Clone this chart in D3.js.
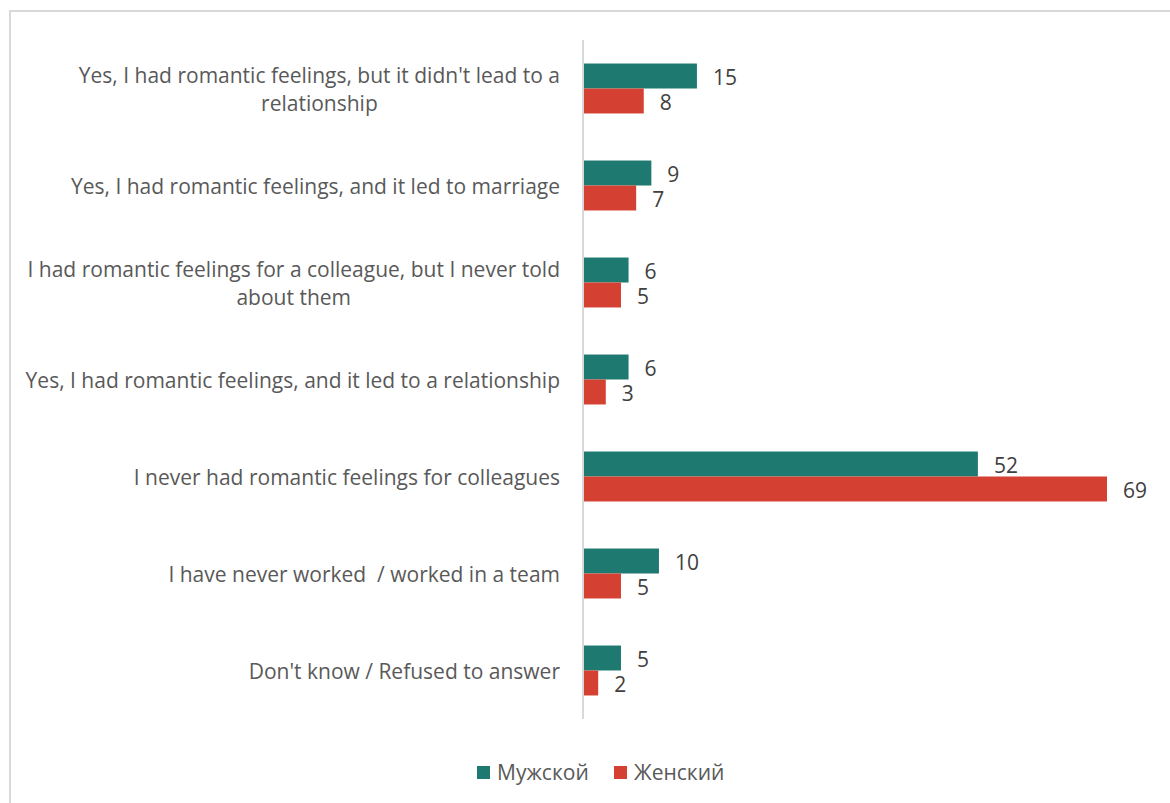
<!DOCTYPE html>
<html><head><meta charset="utf-8">
<script src="https://cdn.jsdelivr.net/npm/d3@7"></script>
<style>
html,body{margin:0;padding:0;background:#fff;}
svg{display:block;}
text{white-space:pre;}
</style></head>
<body>
<svg id="chart" width="1170" height="803"></svg>
<script>
const categories = [
  "Yes, I had romantic feelings, but it didn't lead to a relationship",
  "Yes, I had romantic feelings, and it led to marriage",
  "I had romantic feelings for a colleague, but I never told about them",
  "Yes, I had romantic feelings, and it led to a relationship",
  "I never had romantic feelings for colleagues",
  "I have never worked  / worked in a team",
  "Don't know / Refused to answer"
];
const seriesNames = ["Мужской", "Женский"];
const maleValues = [15, 9, 6, 6, 52, 10, 5];
const femaleValues = [8, 7, 5, 3, 69, 5, 2];
const colors = ["#1E7A71", "#D44133"];

const svg = d3.select("#chart");
const font = "'Open Sans', sans-serif";

const probe = svg.append("text").attr("font-family", font).attr("font-size", 20)
  .text("Yes, I had romantic feelings, and it led to marriage");
const fs = Math.round(20 * 488 / probe.node().getComputedTextLength() * 10) / 10;
probe.remove();

svg.append("rect").attr("x", 10).attr("y", 11).attr("width", 1200).attr("height", 850)
  .attr("fill", "#fff").attr("stroke", "#d9d9d9").attr("stroke-width", 2);

const x0 = 583, x1 = 1107;
const x = d3.scaleLinear().domain([0, 69]).range([x0, x1]);
const y = d3.scaleBand().domain(categories).range([40, 719]).paddingInner(0.485).paddingOuter(0.2425);
const sub = d3.scaleBand().domain(seriesNames).range([0, y.bandwidth()]);

const series = [maleValues, femaleValues];

series.forEach((vals, si) => {
  const g = svg.append("g");
  g.selectAll("rect").data(categories).join("rect")
    .attr("x", x(0))
    .attr("y", (c) => y(c) + sub(seriesNames[si]))
    .attr("width", (c, i) => x(vals[i]) - x(0))
    .attr("height", sub.bandwidth())
    .attr("fill", colors[si]);
  g.selectAll("text").data(categories).join("text")
    .attr("x", (c, i) => x(vals[i]) + 16)
    .attr("y", (c) => y(c) + sub(seriesNames[si]) + sub.bandwidth() / 2)
    .attr("dy", "0.42em")
    .attr("font-family", font).attr("font-size", fs).attr("fill", "#404040")
    .text((c, i) => vals[i]);
});

svg.append("line").attr("x1", x0).attr("x2", x0).attr("y1", 40).attr("y2", 719)
  .attr("stroke", "#d9d9d9").attr("stroke-width", 2);

const maxW = 555;
const labelG = svg.append("g");
categories.forEach((c) => {
  const t = labelG.append("text").attr("font-family", font).attr("font-size", fs).attr("fill", "#595959");
  const words = c.split(" ");
  const lines = [];
  let cur = [];
  words.forEach((w) => {
    const test = cur.concat([w]).join(" ");
    t.text(test);
    if (t.node().getComputedTextLength() > maxW && cur.length) {
      lines.push(cur.join(" "));
      cur = [w];
    } else cur.push(w);
  });
  lines.push(cur.join(" "));
  const widths = lines.map((l) => { t.text(l); return t.node().getComputedTextLength(); });
  t.text(null);
  const maxLine = d3.max(widths);
  const cx = 560 - maxLine / 2;
  const lh = 28;
  const cy = y(c) + y.bandwidth() / 2;
  lines.forEach((l, i) => {
    t.append("tspan").attr("x", cx).attr("text-anchor", "middle")
      .attr("y", cy + (i - (lines.length - 1) / 2) * lh).attr("dy", "0.4em").text(l);
  });
});

const legend = svg.append("g").attr("font-family", font).attr("font-size", fs).attr("fill", "#595959");
const legendItems = [{ x: 477, name: seriesNames[0], col: colors[0] }, { x: 614, name: seriesNames[1], col: colors[1] }];
legendItems.forEach((d) => {
  legend.append("rect").attr("x", d.x).attr("y", 766).attr("width", 13).attr("height", 13).attr("fill", d.col);
  legend.append("text").attr("x", d.x + 20).attr("y", 772).attr("dy", "0.38em").text(d.name);
});
</script>
</body></html>
